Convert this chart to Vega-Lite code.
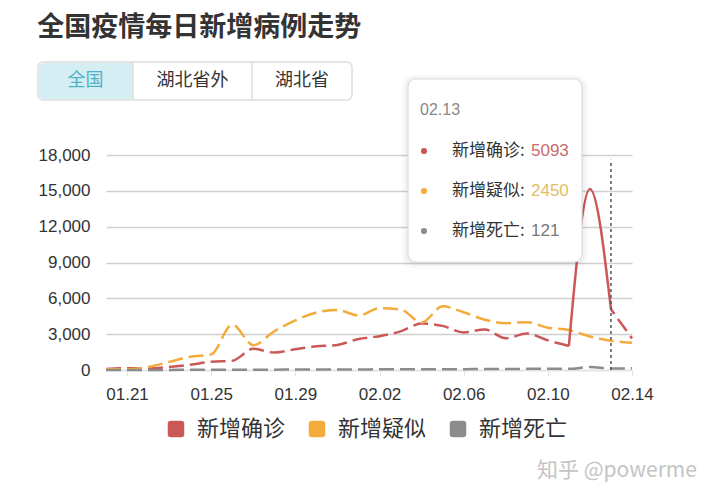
{
  "$schema": "https://vega.github.io/schema/vega-lite/v6.json",
  "width": 526,
  "height": 215,
  "autosize": {"type": "none"},
  "padding": {"left": 106, "top": 155, "right": 88, "bottom": 131},
  "background": "#ffffff",
  "title": {
    "text": "全国疫情每日新增病例走势",
    "anchor": "start",
    "frame": "bounds",
    "font": "Noto Sans CJK SC",
    "fontSize": 27,
    "fontWeight": "bold",
    "color": "#333333",
    "offset": 19
  },
  "config": {
    "view": {"stroke": null},
    "legend": {
      "orient": "none",
      "legendX": 59,
      "legendY": 263,
      "direction": "horizontal",
      "title": null,
      "labelFont": "Noto Sans CJK SC",
      "labelFontSize": 22,
      "labelColor": "#333333",
      "labelOffset": 10,
      "columnPadding": 20,
      "symbolSize": 272,
      "symbolType": "M-1,-0.6Q-1,-1,-0.6,-1L0.6,-1Q1,-1,1,-0.6L1,0.6Q1,1,0.6,1L-0.6,1Q-1,1,-1,0.6Z"
    }
  },
  "datasets": {
    "daily": [
      {"date": "2020-01-20T00:00:00", "新增确诊": 77, "新增疑似": 60, "新增死亡": 3},
      {"date": "2020-01-21T00:00:00", "新增确诊": 149, "新增疑似": 60, "新增死亡": 3},
      {"date": "2020-01-22T00:00:00", "新增确诊": 131, "新增疑似": 257, "新增死亡": 8},
      {"date": "2020-01-23T00:00:00", "新增确诊": 259, "新增疑似": 680, "新增死亡": 8},
      {"date": "2020-01-24T00:00:00", "新增确诊": 444, "新增疑似": 1118, "新增死亡": 16},
      {"date": "2020-01-25T00:00:00", "新增确诊": 688, "新增疑似": 1309, "新增死亡": 15},
      {"date": "2020-01-26T00:00:00", "新增确诊": 769, "新增疑似": 3806, "新增死亡": 24},
      {"date": "2020-01-27T00:00:00", "新增确诊": 1771, "新增疑似": 2077, "新增死亡": 26},
      {"date": "2020-01-28T00:00:00", "新增确诊": 1459, "新增疑似": 3248, "新增死亡": 26},
      {"date": "2020-01-29T00:00:00", "新增确诊": 1737, "新增疑似": 4148, "新增死亡": 38},
      {"date": "2020-01-30T00:00:00", "新增确诊": 1982, "新增疑似": 4812, "新增死亡": 43},
      {"date": "2020-01-31T00:00:00", "新增确诊": 2102, "新增疑似": 5019, "新增死亡": 46},
      {"date": "2020-02-01T00:00:00", "新增确诊": 2590, "新增疑似": 4562, "新增死亡": 45},
      {"date": "2020-02-02T00:00:00", "新增确诊": 2829, "新增疑似": 5173, "新增死亡": 57},
      {"date": "2020-02-03T00:00:00", "新增确诊": 3235, "新增疑似": 5072, "新增死亡": 64},
      {"date": "2020-02-04T00:00:00", "新增确诊": 3887, "新增疑似": 3971, "新增死亡": 65},
      {"date": "2020-02-05T00:00:00", "新增确诊": 3694, "新增疑似": 5328, "新增死亡": 73},
      {"date": "2020-02-06T00:00:00", "新增确诊": 3143, "新增疑似": 4833, "新增死亡": 73},
      {"date": "2020-02-07T00:00:00", "新增确诊": 3399, "新增疑似": 4214, "新增死亡": 86},
      {"date": "2020-02-08T00:00:00", "新增确诊": 2656, "新增疑似": 3916, "新增死亡": 89},
      {"date": "2020-02-09T00:00:00", "新增确诊": 3062, "新增疑似": 4008, "新增死亡": 97},
      {"date": "2020-02-10T00:00:00", "新增确诊": 2478, "新增疑似": 3536, "新增死亡": 108},
      {"date": "2020-02-11T00:00:00", "新增确诊": 2015, "新增疑似": 3342, "新增死亡": 97},
      {"date": "2020-02-12T00:00:00", "新增确诊": 15152, "新增疑似": 2807, "新增死亡": 254},
      {"date": "2020-02-13T00:00:00", "新增确诊": 5093, "新增疑似": 2450, "新增死亡": 121},
      {"date": "2020-02-14T00:00:00", "新增确诊": 2641, "新增疑似": 2277, "新增死亡": 143}
    ]
  },
  "layer": [
    {
      "data": {"name": "daily"},
      "transform": [
        {"fold": ["新增确诊", "新增疑似", "新增死亡"], "as": ["series", "value"]},
        {"filter": "datum.series != '新增确诊' || time(datum.date) <= time(datetime(2020,1,11))"}
      ],
      "mark": {"type": "line", "interpolate": "monotone", "strokeWidth": 2.5, "strokeDash": [15, 6]},
      "encoding": {
        "x": {
          "field": "date", "type": "temporal",
          "scale": {"domain": [{"year": 2020, "month": 1, "date": 20}, {"year": 2020, "month": 2, "date": 14}], "nice": false},
          "axis": {
            "title": null,
            "values": [
              {"year": 2020, "month": 1, "date": 21},
              {"year": 2020, "month": 1, "date": 25},
              {"year": 2020, "month": 1, "date": 29},
              {"year": 2020, "month": 2, "date": 2},
              {"year": 2020, "month": 2, "date": 6},
              {"year": 2020, "month": 2, "date": 10},
              {"year": 2020, "month": 2, "date": 14}
            ],
            "tickCount": 30,
            "format": "%m.%d",
            "grid": false,
            "domain": true,
            "domainColor": "#e3e3e3",
            "ticks": true,
            "tickSize": 6,
            "tickColor": "#e3e3e3",
            "labelFont": "Liberation Sans",
            "labelFontSize": 17,
            "labelColor": "#333333",
            "labelPadding": 10,
            "labelFlush": false,
            "labelOverlap": false
          }
        },
        "y": {
          "field": "value", "type": "quantitative",
          "scale": {"domain": [0, 18000], "nice": false},
          "axis": {
            "title": null,
            "values": [0, 3000, 6000, 9000, 12000, 15000, 18000],
            "tickCount": 10,
            "format": ",.0f",
            "grid": true,
            "gridColor": "#d0d0d0",
            "gridWidth": 1.5,
            "domain": false,
            "ticks": false,
            "labelOverlap": false,
            "labelFont": "Liberation Sans",
            "labelFontSize": 17,
            "labelColor": "#333333",
            "labelPadding": 16
          }
        },
        "color": {
          "field": "series", "type": "nominal",
          "scale": {"domain": ["新增确诊", "新增疑似", "新增死亡"], "range": ["#cc5757", "#f3ab3a", "#8c8c8c"]},
          "legend": {
            "encode": {
              "symbols": {"update": {"fill": {"scale": "color", "field": "value"}, "strokeWidth": {"value": 0}}}
            }
          }
        }
      }
    },
    {
      "data": {"name": "daily"},
      "transform": [{"filter": "time(datum.date) >= time(datetime(2020,1,11)) && time(datum.date) <= time(datetime(2020,1,13))"}],
      "mark": {"type": "line", "interpolate": "monotone", "strokeWidth": 2.5, "color": "#cc5757"},
      "encoding": {
        "x": {"field": "date", "type": "temporal"},
        "y": {"field": "新增确诊", "type": "quantitative"}
      }
    },
    {
      "data": {"name": "daily"},
      "transform": [{"filter": "time(datum.date) >= time(datetime(2020,1,13))"}],
      "mark": {"type": "line", "interpolate": "monotone", "strokeWidth": 2.5, "color": "#cc5757", "strokeDash": [15, 6], "strokeDashOffset": 9},
      "encoding": {
        "x": {"field": "date", "type": "temporal"},
        "y": {"field": "新增确诊", "type": "quantitative"}
      }
    },
    {
      "data": {"values": [{}]},
      "mark": {"type": "rule", "color": "#555555", "strokeWidth": 1.5, "strokeDash": [3, 3]},
      "encoding": {
        "x": {"datum": {"year": 2020, "month": 2, "date": 13}, "type": "temporal"},
        "y": {"datum": 0, "type": "quantitative"},
        "y2": {"datum": 17600}
      }
    },
    {
      "data": {"values": [{}]},
      "mark": {"type": "rect", "fill": "#ffffff", "stroke": "#dddddd", "strokeWidth": 1.5, "cornerRadius": 5},
      "encoding": {
        "x": {"datum": {"year": 2020, "month": 1, "date": 16, "hours": 18, "minutes": 26}, "type": "temporal"},
        "x2": {"datum": {"year": 2020, "month": 1, "date": 31, "hours": 16, "minutes": 36}},
        "y": {"datum": 25787, "type": "quantitative"},
        "y2": {"datum": 22605}
      }
    },
    {
      "data": {"values": [{}]},
      "mark": {"type": "rect", "fill": "#d4eef3", "cornerRadiusTopLeft": 5, "cornerRadiusBottomLeft": 5},
      "encoding": {
        "x": {"datum": {"year": 2020, "month": 1, "date": 16, "hours": 19, "minutes": 30}, "type": "temporal"},
        "x2": {"datum": {"year": 2020, "month": 1, "date": 21, "hours": 6, "minutes": 48}},
        "y": {"datum": 25700, "type": "quantitative"},
        "y2": {"datum": 22690}
      }
    },
    {
      "data": {"values": [{}]},
      "mark": {"type": "rule", "color": "#dddddd", "strokeWidth": 1.5},
      "encoding": {
        "x": {"datum": {"year": 2020, "month": 1, "date": 21, "hours": 6, "minutes": 48}, "type": "temporal"},
        "y": {"datum": 25787, "type": "quantitative"},
        "y2": {"datum": 22605}
      }
    },
    {
      "data": {"values": [{}]},
      "mark": {"type": "rule", "color": "#dddddd", "strokeWidth": 1.5},
      "encoding": {
        "x": {"datum": {"year": 2020, "month": 1, "date": 26, "hours": 22, "minutes": 32}, "type": "temporal"},
        "y": {"datum": 25787, "type": "quantitative"},
        "y2": {"datum": 22605}
      }
    },
    {
      "data": {"values": [{}]},
      "mark": {"type": "text", "text": "全国", "font": "Noto Sans CJK SC", "fontSize": 18, "color": "#4fb3c7", "align": "center", "baseline": "middle"},
      "encoding": {
        "x": {"datum": {"year": 2020, "month": 1, "date": 19, "hours": 0, "minutes": 37}, "type": "temporal"},
        "y": {"datum": 24196, "type": "quantitative"}
      }
    },
    {
      "data": {"values": [{}]},
      "mark": {"type": "text", "text": "湖北省外", "font": "Noto Sans CJK SC", "fontSize": 18, "color": "#333333", "align": "center", "baseline": "middle"},
      "encoding": {
        "x": {"datum": {"year": 2020, "month": 1, "date": 24, "hours": 2, "minutes": 40}, "type": "temporal"},
        "y": {"datum": 24196, "type": "quantitative"}
      }
    },
    {
      "data": {"values": [{}]},
      "mark": {"type": "text", "text": "湖北省", "font": "Noto Sans CJK SC", "fontSize": 18, "color": "#333333", "align": "center", "baseline": "middle"},
      "encoding": {
        "x": {"datum": {"year": 2020, "month": 1, "date": 29, "hours": 7, "minutes": 35}, "type": "temporal"},
        "y": {"datum": 24196, "type": "quantitative"}
      }
    },
    {
      "data": {"values": [{}]},
      "mark": {"type": "rect", "fill": "#000000", "opacity": 0.025, "cornerRadius": 12},
      "encoding": {
        "x": {"datum": {"year": 2020, "month": 2, "date": 3, "hours": 1, "minutes": 38}, "type": "temporal"},
        "x2": {"datum": {"year": 2020, "month": 2, "date": 11, "hours": 21, "minutes": 49}},
        "y": {"datum": 24700, "type": "quantitative"},
        "y2": {"datum": 8450}
      }
    },
    {
      "data": {"values": [{}]},
      "mark": {"type": "rect", "fill": "#000000", "opacity": 0.035, "cornerRadius": 10},
      "encoding": {
        "x": {"datum": {"year": 2020, "month": 2, "date": 3, "hours": 5, "minutes": 4}, "type": "temporal"},
        "x2": {"datum": {"year": 2020, "month": 2, "date": 11, "hours": 18, "minutes": 23}},
        "y": {"datum": 24500, "type": "quantitative"},
        "y2": {"datum": 8750}
      }
    },
    {
      "data": {"values": [{}]},
      "mark": {"type": "rect", "fill": "#ffffff", "stroke": "#dddddd", "strokeWidth": 1.2, "cornerRadius": 8},
      "encoding": {
        "x": {"datum": {"year": 2020, "month": 2, "date": 3, "hours": 8, "minutes": 30}, "type": "temporal"},
        "x2": {"datum": {"year": 2020, "month": 2, "date": 11, "hours": 14, "minutes": 58}},
        "y": {"datum": 24363, "type": "quantitative"},
        "y2": {"datum": 9042}
      }
    },
    {
      "data": {"name": "daily"},
      "transform": [{"filter": "time(datum.date) == time(datetime(2020,1,13))"}],
      "mark": {"type": "text", "font": "Liberation Sans", "fontSize": 16, "color": "#888888", "align": "left", "baseline": "middle"},
      "encoding": {
        "x": {"datum": {"year": 2020, "month": 2, "date": 3, "hours": 22, "minutes": 11}, "type": "temporal"},
        "y": {"datum": 21768, "type": "quantitative"},
        "text": {"field": "date", "type": "temporal", "format": "%m.%d"}
      }
    },
    {
      "data": {"values": [{}]},
      "mark": {"type": "point", "filled": true, "size": 38, "color": "#cc5757", "opacity": 1},
      "encoding": {
        "x": {"datum": {"year": 2020, "month": 2, "date": 4, "hours": 2, "minutes": 44}, "type": "temporal"},
        "y": {"datum": 18336, "type": "quantitative"}
      }
    },
    {
      "data": {"values": [{}]},
      "mark": {"type": "point", "filled": true, "size": 38, "color": "#f3ab3a", "opacity": 1},
      "encoding": {
        "x": {"datum": {"year": 2020, "month": 2, "date": 4, "hours": 2, "minutes": 44}, "type": "temporal"},
        "y": {"datum": 14987, "type": "quantitative"}
      }
    },
    {
      "data": {"values": [{}]},
      "mark": {"type": "point", "filled": true, "size": 38, "color": "#8c8c8c", "opacity": 1},
      "encoding": {
        "x": {"datum": {"year": 2020, "month": 2, "date": 4, "hours": 2, "minutes": 44}, "type": "temporal"},
        "y": {"datum": 11638, "type": "quantitative"}
      }
    },
    {
      "data": {"values": [{}]},
      "mark": {"type": "text", "text": "新增确诊:", "font": "Noto Sans CJK SC", "fontSize": 17, "color": "#333333", "align": "left", "baseline": "middle"},
      "encoding": {
        "x": {"datum": {"year": 2020, "month": 2, "date": 5, "hours": 10, "minutes": 41}, "type": "temporal"},
        "y": {"datum": 18336, "type": "quantitative"}
      }
    },
    {
      "data": {"values": [{}]},
      "mark": {"type": "text", "text": "新增疑似:", "font": "Noto Sans CJK SC", "fontSize": 17, "color": "#333333", "align": "left", "baseline": "middle"},
      "encoding": {
        "x": {"datum": {"year": 2020, "month": 2, "date": 5, "hours": 10, "minutes": 41}, "type": "temporal"},
        "y": {"datum": 14987, "type": "quantitative"}
      }
    },
    {
      "data": {"values": [{}]},
      "mark": {"type": "text", "text": "新增死亡:", "font": "Noto Sans CJK SC", "fontSize": 17, "color": "#333333", "align": "left", "baseline": "middle"},
      "encoding": {
        "x": {"datum": {"year": 2020, "month": 2, "date": 5, "hours": 10, "minutes": 41}, "type": "temporal"},
        "y": {"datum": 11638, "type": "quantitative"}
      }
    },
    {
      "data": {"name": "daily"},
      "transform": [{"filter": "time(datum.date) == time(datetime(2020,1,13))"}],
      "mark": {"type": "text", "font": "Liberation Sans", "fontSize": 17, "color": "#c86b6d", "align": "left", "baseline": "middle"},
      "encoding": {
        "x": {"datum": {"year": 2020, "month": 2, "date": 9, "hours": 4, "minutes": 48}, "type": "temporal"},
        "y": {"datum": 18336, "type": "quantitative"},
        "text": {"field": "新增确诊", "type": "quantitative", "format": "d"}
      }
    },
    {
      "data": {"name": "daily"},
      "transform": [{"filter": "time(datum.date) == time(datetime(2020,1,13))"}],
      "mark": {"type": "text", "font": "Liberation Sans", "fontSize": 17, "color": "#e3bd64", "align": "left", "baseline": "middle"},
      "encoding": {
        "x": {"datum": {"year": 2020, "month": 2, "date": 9, "hours": 4, "minutes": 48}, "type": "temporal"},
        "y": {"datum": 14987, "type": "quantitative"},
        "text": {"field": "新增疑似", "type": "quantitative", "format": "d"}
      }
    },
    {
      "data": {"name": "daily"},
      "transform": [{"filter": "time(datum.date) == time(datetime(2020,1,13))"}],
      "mark": {"type": "text", "font": "Liberation Sans", "fontSize": 17, "color": "#777777", "align": "left", "baseline": "middle"},
      "encoding": {
        "x": {"datum": {"year": 2020, "month": 2, "date": 9, "hours": 4, "minutes": 48}, "type": "temporal"},
        "y": {"datum": 11638, "type": "quantitative"},
        "text": {"field": "新增死亡", "type": "quantitative", "format": "d"}
      }
    },
    {
      "data": {"values": [{}]},
      "mark": {"type": "text", "text": "知乎 @powerme", "font": "Noto Sans CJK SC", "fontSize": 21, "color": "#c4c4c4", "align": "left", "baseline": "middle"},
      "encoding": {
        "x": {"datum": {"year": 2020, "month": 2, "date": 9, "hours": 11, "minutes": 39}, "type": "temporal"},
        "y": {"datum": -8456, "type": "quantitative"}
      }
    }
  ]
}
